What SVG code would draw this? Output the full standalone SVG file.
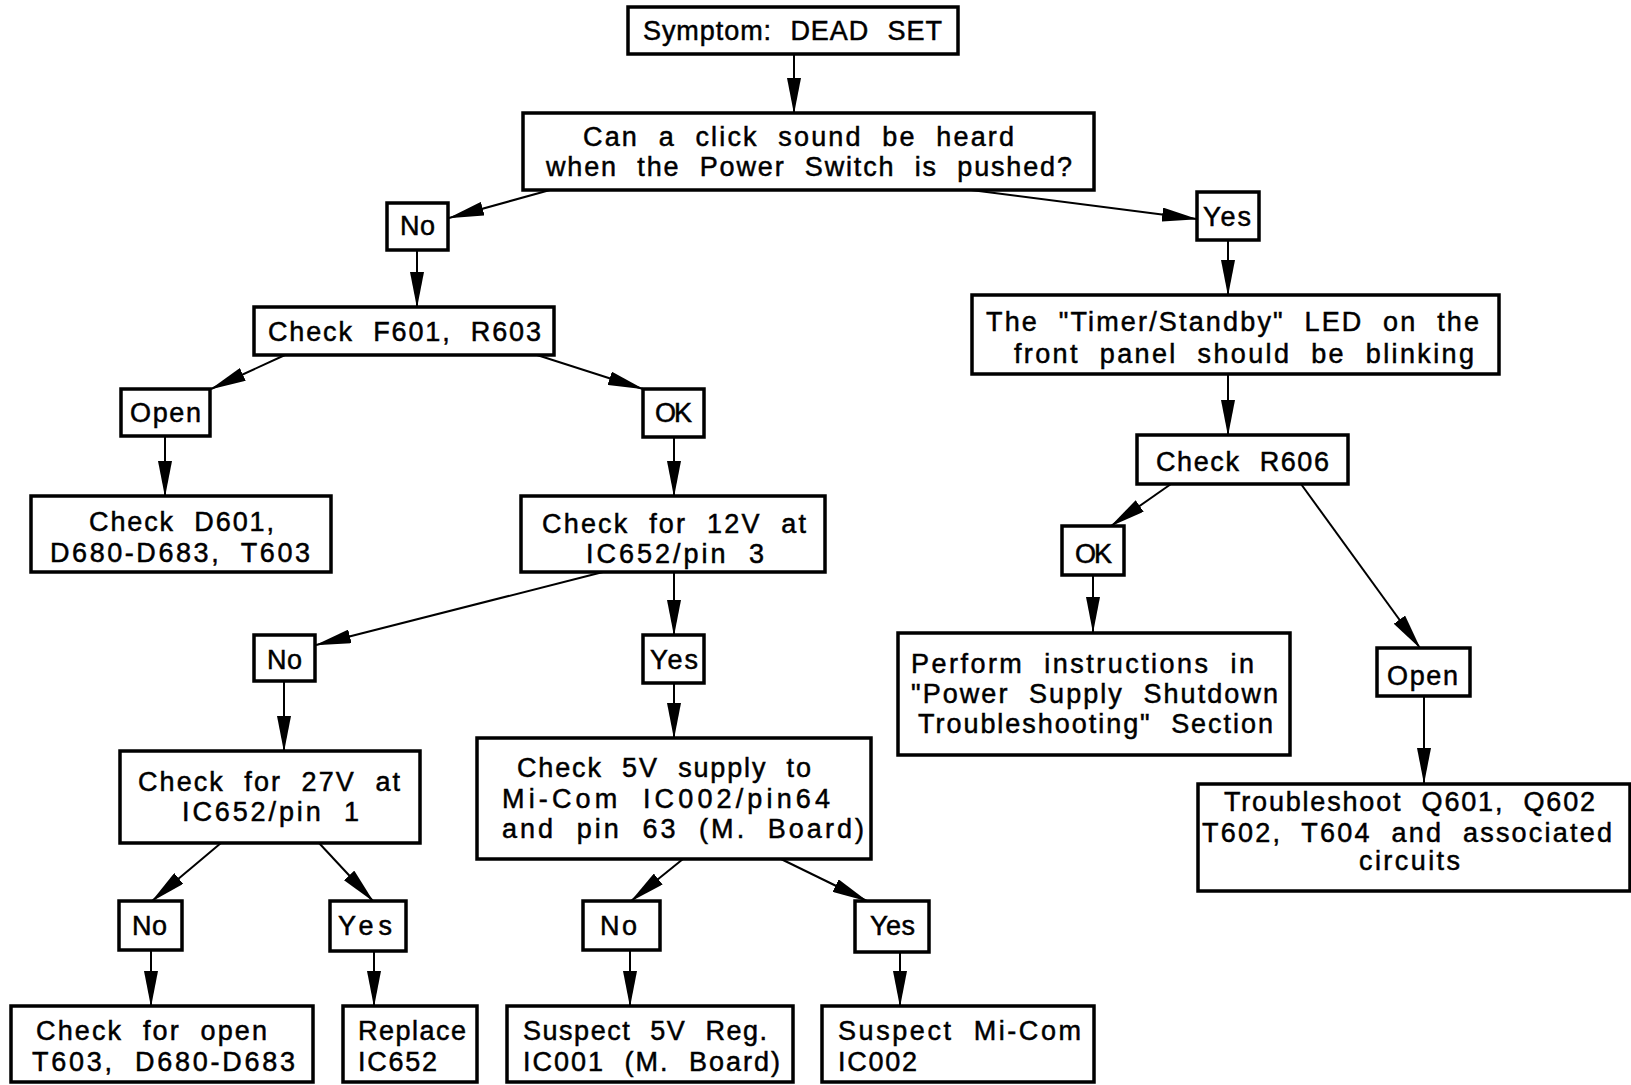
<svg xmlns="http://www.w3.org/2000/svg" width="1631" height="1085" viewBox="0 0 1631 1085">
<style>
.box{fill:#fff;stroke:#000;stroke-width:3.5}
.t{font-family:"Liberation Sans",Arial,sans-serif;font-size:27px;fill:#000;stroke:#000;stroke-width:0.5;word-spacing:10px}
.c{stroke:#000;stroke-width:2;fill:none;marker-end:url(#ah)}
</style>
<defs>
<marker id="ah" markerUnits="userSpaceOnUse" markerWidth="36" markerHeight="14" refX="35" refY="7" orient="auto">
<path d="M0,0 L36,7 L0,14 z" fill="#000"/>
</marker>
</defs>
<rect width="1631" height="1085" fill="#fff"/>
<g id="connectors">
<line class="c" x1="794" y1="54" x2="794" y2="113"/>
<line class="c" x1="550" y1="190" x2="449" y2="218"/>
<line class="c" x1="971" y1="190" x2="1197" y2="219"/>
<line class="c" x1="417" y1="250" x2="417" y2="307"/>
<line class="c" x1="285" y1="355" x2="211" y2="389"/>
<line class="c" x1="537" y1="355" x2="643" y2="389"/>
<line class="c" x1="165" y1="436" x2="165" y2="496"/>
<line class="c" x1="674" y1="437" x2="674" y2="496"/>
<line class="c" x1="603" y1="572" x2="316" y2="645"/>
<line class="c" x1="674" y1="572" x2="674" y2="635"/>
<line class="c" x1="284" y1="681" x2="284" y2="751"/>
<line class="c" x1="674" y1="683" x2="674" y2="738"/>
<line class="c" x1="221" y1="843" x2="152" y2="901"/>
<line class="c" x1="319" y1="843" x2="373" y2="901"/>
<line class="c" x1="151" y1="950" x2="151" y2="1006"/>
<line class="c" x1="374" y1="951" x2="374" y2="1006"/>
<line class="c" x1="683" y1="859" x2="631" y2="901"/>
<line class="c" x1="781" y1="859" x2="867" y2="901"/>
<line class="c" x1="630" y1="950" x2="630" y2="1006"/>
<line class="c" x1="900" y1="952" x2="900" y2="1006"/>
<line class="c" x1="1228" y1="240" x2="1228" y2="295"/>
<line class="c" x1="1228" y1="374" x2="1228" y2="435"/>
<line class="c" x1="1171" y1="484" x2="1111" y2="526"/>
<line class="c" x1="1301" y1="484" x2="1420" y2="648"/>
<line class="c" x1="1093" y1="575" x2="1093" y2="632"/>
<line class="c" x1="1424" y1="697" x2="1424" y2="783"/>
</g>
<g id="n-symptom"><rect class="box" x="628" y="7" width="330" height="47"/><text class="t" x="643" y="40" textLength="299" lengthAdjust="spacing">Symptom: DEAD SET</text></g>
<g id="n-click"><rect class="box" x="523" y="113" width="571" height="77"/><text class="t" x="583" y="146" textLength="431" lengthAdjust="spacing">Can a click sound be heard</text><text class="t" x="546" y="176" textLength="526" lengthAdjust="spacing">when the Power Switch is pushed?</text></g>
<g id="n-no1"><rect class="box" x="387" y="203" width="61" height="47"/><text class="t" x="400" y="235" textLength="35" lengthAdjust="spacing">No</text></g>
<g id="n-yes1"><rect class="box" x="1197" y="192" width="62" height="48"/><text class="t" x="1203" y="226" textLength="48" lengthAdjust="spacing">Yes</text></g>
<g id="n-f601"><rect class="box" x="254" y="307" width="300" height="48"/><text class="t" x="268" y="341" textLength="273" lengthAdjust="spacing">Check F601, R603</text></g>
<g id="n-open1"><rect class="box" x="121" y="389" width="89" height="47"/><text class="t" x="130" y="422" textLength="71" lengthAdjust="spacing">Open</text></g>
<g id="n-ok1"><rect class="box" x="643" y="389" width="61" height="48"/><text class="t" x="655" y="422" textLength="37" lengthAdjust="spacing">OK</text></g>
<g id="n-d601"><rect class="box" x="31" y="496" width="300" height="76"/><text class="t" x="89" y="531" textLength="185" lengthAdjust="spacing">Check D601,</text><text class="t" x="50" y="562" textLength="260" lengthAdjust="spacing">D680-D683, T603</text></g>
<g id="n-12v"><rect class="box" x="521" y="496" width="304" height="76"/><text class="t" x="542" y="533" textLength="264" lengthAdjust="spacing">Check for 12V at</text><text class="t" x="586" y="563" textLength="178" lengthAdjust="spacing">IC652/pin 3</text></g>
<g id="n-no2"><rect class="box" x="254" y="635" width="61" height="46"/><text class="t" x="267" y="669" textLength="35" lengthAdjust="spacing">No</text></g>
<g id="n-yes2"><rect class="box" x="643" y="635" width="61" height="48"/><text class="t" x="650" y="669" textLength="48" lengthAdjust="spacing">Yes</text></g>
<g id="n-27v"><rect class="box" x="120" y="751" width="300" height="92"/><text class="t" x="138" y="791" textLength="262" lengthAdjust="spacing">Check for 27V at</text><text class="t" x="182" y="821" textLength="177" lengthAdjust="spacing">IC652/pin 1</text></g>
<g id="n-5v"><rect class="box" x="477" y="738" width="394" height="121"/><text class="t" x="517" y="777" textLength="294" lengthAdjust="spacing">Check 5V supply to</text><text class="t" x="502" y="808" textLength="328" lengthAdjust="spacing">Mi-Com IC002/pin64</text><text class="t" x="502" y="838" textLength="362" lengthAdjust="spacing">and pin 63 (M. Board)</text></g>
<g id="n-no3"><rect class="box" x="119" y="901" width="63" height="49"/><text class="t" x="132" y="935" textLength="35" lengthAdjust="spacing">No</text></g>
<g id="n-yes3"><rect class="box" x="330" y="901" width="76" height="50"/><text class="t" x="338" y="935" textLength="54" lengthAdjust="spacing">Yes</text></g>
<g id="n-no4"><rect class="box" x="583" y="901" width="77" height="49"/><text class="t" x="600" y="935" textLength="37" lengthAdjust="spacing">No</text></g>
<g id="n-yes4"><rect class="box" x="855" y="901" width="74" height="51"/><text class="t" x="870" y="935" textLength="45" lengthAdjust="spacing">Yes</text></g>
<g id="n-checkopen"><rect class="box" x="11" y="1006" width="302" height="76"/><text class="t" x="36" y="1040" textLength="231" lengthAdjust="spacing">Check for open</text><text class="t" x="32" y="1071" textLength="263" lengthAdjust="spacing">T603, D680-D683</text></g>
<g id="n-replace"><rect class="box" x="343" y="1006" width="134" height="76"/><text class="t" x="358" y="1040" textLength="108" lengthAdjust="spacing">Replace</text><text class="t" x="358" y="1071" textLength="79" lengthAdjust="spacing">IC652</text></g>
<g id="n-sus5v"><rect class="box" x="507" y="1006" width="286" height="76"/><text class="t" x="523" y="1040" textLength="244" lengthAdjust="spacing">Suspect 5V Reg.</text><text class="t" x="523" y="1071" textLength="257" lengthAdjust="spacing">IC001 (M. Board)</text></g>
<g id="n-susmicom"><rect class="box" x="822" y="1006" width="272" height="76"/><text class="t" x="838" y="1040" textLength="243" lengthAdjust="spacing">Suspect Mi-Com</text><text class="t" x="838" y="1071" textLength="79" lengthAdjust="spacing">IC002</text></g>
<g id="n-timer"><rect class="box" x="972" y="295" width="527" height="79"/><text class="t" x="986" y="331" textLength="493" lengthAdjust="spacing">The "Timer/Standby" LED on the</text><text class="t" x="1014" y="363" textLength="460" lengthAdjust="spacing">front panel should be blinking</text></g>
<g id="n-r606"><rect class="box" x="1137" y="435" width="211" height="49"/><text class="t" x="1156" y="471" textLength="173" lengthAdjust="spacing">Check R606</text></g>
<g id="n-ok2"><rect class="box" x="1062" y="526" width="62" height="49"/><text class="t" x="1075" y="563" textLength="37" lengthAdjust="spacing">OK</text></g>
<g id="n-perform"><rect class="box" x="898" y="633" width="392" height="122"/><text class="t" x="911" y="673" textLength="343" lengthAdjust="spacing">Perform instructions in</text><text class="t" x="911" y="703" textLength="367" lengthAdjust="spacing">"Power Supply Shutdown</text><text class="t" x="918" y="733" textLength="355" lengthAdjust="spacing">Troubleshooting" Section</text></g>
<g id="n-open2"><rect class="box" x="1377" y="648" width="93" height="48"/><text class="t" x="1387" y="685" textLength="71" lengthAdjust="spacing">Open</text></g>
<g id="n-trouble"><rect class="box" x="1198" y="784" width="432" height="107"/><text class="t" x="1224" y="811" textLength="371" lengthAdjust="spacing">Troubleshoot Q601, Q602</text><text class="t" x="1202" y="842" textLength="410" lengthAdjust="spacing">T602, T604 and associated</text><text class="t" x="1359" y="870" textLength="101" lengthAdjust="spacing">circuits</text></g>
</svg>
